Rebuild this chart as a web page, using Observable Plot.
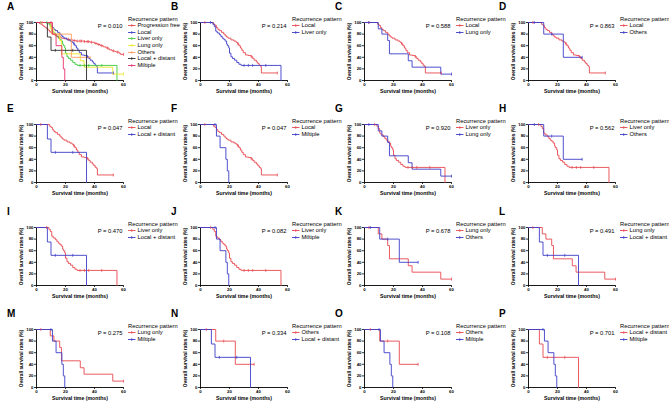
<!DOCTYPE html>
<html><head><meta charset="utf-8">
<script src="https://cdn.jsdelivr.net/npm/d3@7"></script>
<script src="https://cdn.jsdelivr.net/npm/@observablehq/plot@0.6"></script>
<style>
body{margin:0;background:#fff;}
#fig{position:relative;width:669px;height:403px;overflow:hidden;background:#fff;font-family:"Liberation Sans",Arial,sans-serif;color:#000;}
.pl{position:absolute;}
.letter{position:absolute;font-weight:bold;font-size:10px;line-height:10px;}
.leg{position:absolute;font-size:5.8px;line-height:6.6px;white-space:nowrap;}
.leg svg{vertical-align:middle;margin-right:1.5px;}
</style></head><body><div id="fig"></div>
<script>
// ---------- data ----------
const panelLetters = ["A","B","C","D","E","F","G","H","I","J","K","L","M","N","O","P"];
const pValues = ["P = 0.010","P = 0.214","P = 0.588","P = 0.863","P = 0.047","P = 0.047","P = 0.920","P = 0.562",
                 "P = 0.470","P = 0.082","P = 0.678","P = 0.491","P = 0.275","P = 0.334","P = 0.108","P = 0.701"];
const panelGroups = [
  ["Progression free","Local","Liver only","Lung only","Others","Local + distant","Miltiple"],
  ["Local","Liver only"],["Local","Lung only"],["Local","Others"],
  ["Local","Local + distant"],["Local","Miltiple"],["Liver only","Lung only"],["Liver only","Others"],
  ["Liver only","Local + distant"],["Liver only","Miltiple"],["Lung only","Others"],["Lung only","Local + distant"],
  ["Lung only","Miltiple"],["Others","Local + distant"],["Others","Miltiple"],["Local + distant","Miltiple"]
];
const xMax = [60,60,60,60,60,60,60,60,60,60,60,60,60,60,60,60];
const xTicks = [0,20,40,60];
const yTicks = [0,20,40,60,80,100];
const legendTitle = "Recurrence pattern";
const xLabel = "Survival time (months)";
const yLabel = "Overall survival rates (%)";

// Kaplan-Meier steps [months, survival %]
const progressionFree = [[0,100],[2,98],[3,97],[4,95],[5,93],[6,91],[7,89],[8,87],[9,84],[10,82],[11,80],[12,79],[13,77],[14,76],[15,75],[17,73],[19,72],[21,71],[23,70],[25,69],[27,68],[33,67],[37,66],[40,64],[42,62],[44,60],[46,58],[48,56],[50,53],[52,51],[54,50],[55,49],[57,47],[58,45],[60,45]];
const localCurve = [[0,100],[9,97],[10,95],[11,91],[12,88],[13,86],[14.5,83],[16,80],[17,77],[18,75],[19,73],[21,70],[23,68],[24.5,66],[25.5,63],[26.5,60],[27.5,56],[28.5,52],[29.5,48],[31,44],[33,43],[35,41],[36,38],[37,35],[38.5,32],[39.5,29],[40.5,26],[41.5,24],[42,13],[53,13]];
const liverCurve = [[0,100],[8.5,97],[9.5,93],[10.5,85],[11.5,82],[13,79],[14,76],[15,73],[16,71],[17,68],[18,63],[18.5,60],[19.5,56],[20,47],[21,41],[22,38],[23.5,35],[25,31],[26.5,28],[28,26],[55.5,0]];
const lungCurve = [[0,100],[9.5,89],[12,80],[16,69],[17.2,46],[30.2,34],[32.8,23],[52.6,11],[60,11]];
const othersCurve = [[0,100],[10.5,80],[24,40],[37,40]];
const localDistantCurve = [[0,100],[7.5,75],[10,52],[34.5,0]];
const multipleCurve = [[0,100],[11,80],[13.5,60],[17.5,40],[18.5,20],[19.5,0]];

// censoring times (months)
const progressionFreeCensor = [15,22,26,28,30,31,33,35,36,38,41,43,45,49,53,56,60];
const localCensor = [3,26,35,53];
const liverCensor = [7,30,33,36,45];
const lungCensor = [3,60];
const othersCensor = [4,16,37];
const localDistantCensor = [13,25];
const multipleCensor = [10];

const colors7 = ["#e8474f","#3c3cc8","#3cc83c","#ece62a","#ff9a5a","#2a2a2a","#e8306a"];
const colorsPair = ["#e8474f","#3c3cc8"];

// ---------- build ----------
const curves = {"Progression free":progressionFree,"Local":localCurve,"Liver only":liverCurve,"Lung only":lungCurve,
  "Others":othersCurve,"Local + distant":localDistantCurve,"Miltiple":multipleCurve};
const censors = {"Progression free":progressionFreeCensor,"Local":localCensor,"Liver only":liverCensor,"Lung only":lungCensor,
  "Others":othersCensor,"Local + distant":localDistantCensor,"Miltiple":multipleCensor};
function survAt(curve,t){let s=curve[0][1];for(const [ct,cs] of curve){if(ct<=t)s=cs;}return s;}
const censorSymbol = {draw(ctx,size){const r=Math.sqrt(size/Math.PI);ctx.moveTo(0,-r);ctx.lineTo(0,r);}};

const FONT = '"Liberation Sans",Arial,sans-serif';
const colPlotLeft = [36,200,364,528];
const rowPlotTop = [22,124,227,329];
const PW = 87, PH = 58, ML = 36, MT = 4, MR = 4, MB = 18;
const fig = document.getElementById("fig");

panelLetters.forEach((letter,i)=>{
  const col=i%4, row=Math.floor(i/4);
  const pl=colPlotLeft[col], pt=rowPlotTop[row];
  const names=panelGroups[i];
  const cols=names.length>2?colors7:colorsPair;
  const lineData=names.flatMap(n=>curves[n].map(([t,s])=>({t,s,n})));
  const censorData=names.flatMap(n=>censors[n].map(t=>({t,s:survAt(curves[n],t),n})));
  const svg=Plot.plot({
    width:ML+PW+MR,height:MT+PH+MB,marginLeft:ML,marginRight:MR,marginTop:MT,marginBottom:MB,
    style:{fontFamily:FONT,fontSize:"4.3px",fontWeight:"bold",background:"transparent",overflow:"visible"},
    x:{domain:[0,xMax[i]]},y:{domain:[0,100]},
    color:{domain:names,range:cols},
    marks:[
      Plot.axisY({ticks:yTicks,tickSize:2,tickPadding:1,label:null,strokeWidth:0.8}),
      Plot.axisX({ticks:xTicks,tickSize:2,tickPadding:0.5,label:null,strokeWidth:0.8}),
      Plot.ruleX([0],{strokeWidth:0.9}),
      Plot.ruleY([0],{strokeWidth:0.9}),
      Plot.line(lineData,{x:"t",y:"s",z:"n",stroke:"n",curve:"step-after",strokeWidth:0.9}),
      Plot.dot(censorData,{x:"t",y:"s",stroke:"n",fill:"none",symbol:censorSymbol,r:1.5,strokeWidth:0.7}),
      Plot.text([pValues[i]],{text:d=>d,frameAnchor:"top-right",textAnchor:"end",lineAnchor:"middle",dx:-1,dy:4,fontSize:5.8,fontWeight:"normal"}),
      Plot.text([xLabel],{text:d=>d,frameAnchor:"bottom",textAnchor:"middle",lineAnchor:"middle",dy:11,fontSize:5.2}),
      Plot.text([yLabel],{text:d=>d,frameAnchor:"left",textAnchor:"middle",lineAnchor:"middle",rotate:-90,dx:-15,fontSize:4.8})
    ]
  });
  svg.classList.add("pl");
  svg.style.left=(pl-ML)+"px"; svg.style.top=(pt-MT)+"px";
  fig.appendChild(svg);

  const L=document.createElement("div");
  L.className="letter"; L.textContent=letter;
  L.style.left=(pl-29)+"px"; L.style.top=(pt-20)+"px";
  fig.appendChild(L);

  const leg=document.createElement("div");
  leg.className="leg";
  leg.style.left=(pl+PW+5)+"px"; leg.style.top=(pt-6.3)+"px";
  let html=`<div>${legendTitle}</div>`;
  names.forEach((n,k)=>{
    html+=`<div><svg width="8" height="5"><line x1="0" x2="7.5" y1="2.5" y2="2.5" stroke="${cols[k]}" stroke-width="0.9"/><line x1="3.75" x2="3.75" y1="1" y2="4" stroke="${cols[k]}" stroke-width="0.7"/></svg>${n}</div>`;
  });
  leg.innerHTML=html;
  fig.appendChild(leg);
});
</script></body></html>
